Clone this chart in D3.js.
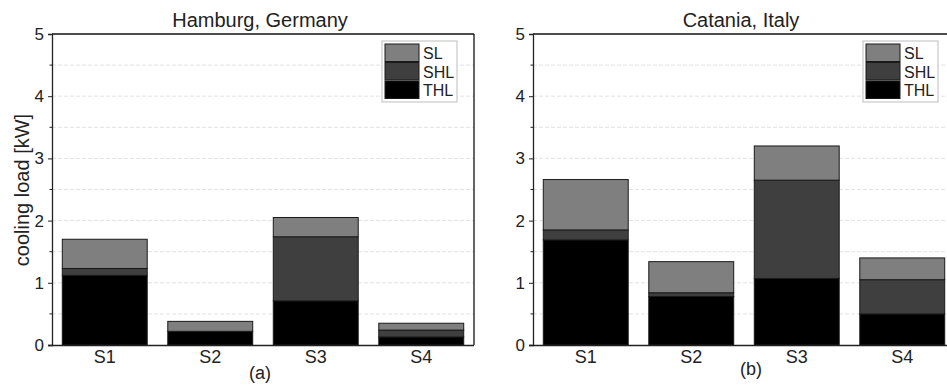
<!DOCTYPE html>
<html>
<head>
<meta charset="utf-8">
<script src="https://cdn.jsdelivr.net/npm/d3@7"></script>
<style>
  html, body { margin: 0; padding: 0; background: #fff; }
  svg { display: block; font-family: "Liberation Sans", Arial, sans-serif; }
</style>
</head>
<body>
<svg id="chart" width="947" height="385"></svg>
<script>
// Scenarios on the x axis
const scenarios = ["S1", "S2", "S3", "S4"];
// Load components, stacked bottom to top
const components = ["THL", "SHL", "SL"];
const legendOrder = ["SL", "SHL", "THL"];
const yTicks = [0, 1, 2, 3, 4, 5];

// Hamburg, Germany [kW]
const hamburgTHL = [1.12, 0.22, 0.71, 0.13];
const hamburgSHL = [0.11, 0.00, 1.03, 0.11];
const hamburgSL  = [0.47, 0.16, 0.31, 0.11];

// Catania, Italy [kW]
const cataniaTHL = [1.69, 0.78, 1.07, 0.50];
const cataniaSHL = [0.16, 0.06, 1.58, 0.55];
const cataniaSL  = [0.81, 0.50, 0.55, 0.35];

const panels = [
  { title: "Hamburg, Germany", tag: "(a)", THL: hamburgTHL, SHL: hamburgSHL, SL: hamburgSL,
    x0: 52, x1: 474, tagX: 260, tagY: 379, showYLabel: true },
  { title: "Catania, Italy", tag: "(b)", THL: cataniaTHL, SHL: cataniaSHL, SL: cataniaSL,
    x0: 533, x1: 955, tagX: 751, tagY: 375, showYLabel: false }
];

const fill = { SL: "#7f7f7f", SHL: "#3f3f3f", THL: "#000000" };
const plotTop = 34, plotBottom = 345;

const svg = d3.select("#chart");

panels.forEach(p => {
  const g = svg.append("g");
  const rows = scenarios.map((s, i) => ({ s, THL: p.THL[i], SHL: p.SHL[i], SL: p.SL[i] }));
  const series = d3.stack().keys(components)(rows);

  const x = d3.scaleBand().domain(scenarios).range([p.x0, p.x1]).paddingInner(0.195).paddingOuter(0.0975);
  const y = d3.scaleLinear().domain([0, 5]).range([plotBottom, plotTop]);

  // dashed grid at every half unit
  g.append("g").selectAll("line")
    .data(d3.range(0.5, 5, 0.5))
    .join("line")
    .attr("x1", p.x0).attr("x2", p.x1)
    .attr("y1", d => y(d)).attr("y2", d => y(d))
    .attr("stroke", "#e2e2e2").attr("stroke-width", 1)
    .attr("stroke-dasharray", "4,2");

  // stacked bars
  g.append("g").selectAll("g")
    .data(series)
    .join("g")
    .attr("fill", d => fill[d.key])
    .selectAll("rect")
    .data(d => d)
    .join("rect")
    .attr("x", d => x(d.data.s))
    .attr("width", x.bandwidth())
    .attr("y", d => y(d[1]))
    .attr("height", d => y(d[0]) - y(d[1]))
    .attr("stroke", "#1a1a1a").attr("stroke-width", 1);

  // frame: top and right edges
  g.append("line").attr("x1", p.x0).attr("x2", p.x1).attr("y1", plotTop).attr("y2", plotTop)
    .attr("stroke", "#111").attr("stroke-width", 1.3);
  g.append("line").attr("x1", p.x1).attr("x2", p.x1).attr("y1", plotTop).attr("y2", plotBottom)
    .attr("stroke", "#111").attr("stroke-width", 1.3);

  // minor ticks on y
  g.append("g").selectAll("line")
    .data(d3.range(0.5, 5, 1))
    .join("line")
    .attr("x1", p.x0 - 2.5).attr("x2", p.x0)
    .attr("y1", d => y(d)).attr("y2", d => y(d))
    .attr("stroke", "#222");

  // y axis
  const ya = g.append("g").attr("transform", `translate(${p.x0},0)`)
    .call(d3.axisLeft(y).tickValues(yTicks).tickFormat(d3.format("d")).tickSizeOuter(0).tickSize(4).tickPadding(4));
  ya.select(".domain").attr("stroke", "#222").attr("stroke-width", 1.3);
  ya.selectAll(".tick line").attr("stroke", "#222");
  ya.selectAll(".tick text").attr("font-size", 17).attr("fill", "#222")
    .attr("font-family", "Liberation Sans, Arial, sans-serif");

  // x axis
  const xa = g.append("g").attr("transform", `translate(0,${plotBottom})`)
    .call(d3.axisBottom(x).tickSize(0).tickSizeOuter(0).tickPadding(5));
  xa.select(".domain").attr("d", `M${p.x0 - 4},0.5H${p.x1}`).attr("stroke", "#222").attr("stroke-width", 1.3);
  xa.selectAll(".tick text").attr("font-size", 18).attr("fill", "#222")
    .attr("font-family", "Liberation Sans, Arial, sans-serif");

  // title and panel tag
  g.append("text").attr("x", (p.x0 + p.x1) / 2 - 3).attr("y", 27)
    .attr("text-anchor", "middle").attr("font-size", 20).attr("fill", "#222")
    .text(p.title);
  g.append("text").attr("x", p.tagX).attr("y", p.tagY)
    .attr("text-anchor", "middle").attr("font-size", 18).attr("fill", "#222")
    .text(p.tag);

  if (p.showYLabel) {
    g.append("text")
      .attr("transform", `translate(29,190) rotate(-90)`)
      .attr("text-anchor", "middle").attr("font-size", 20).attr("fill", "#222")
      .text("cooling load [kW]");
  }

  // legend
  const lx = p.x1 - 92, ly = 41;
  const lg = g.append("g").attr("transform", `translate(${lx},${ly})`);
  lg.append("rect").attr("x", 0).attr("y", 0).attr("width", 75).attr("height", 61)
    .attr("fill", "#fff").attr("stroke", "#bdbdbd").attr("stroke-width", 1);
  legendOrder.forEach((k, i) => {
    lg.append("rect").attr("x", 3).attr("y", 3 + i * 18.5).attr("width", 34).attr("height", 17.5)
      .attr("fill", fill[k]).attr("stroke", "#1a1a1a").attr("stroke-width", 1);
    lg.append("text").attr("x", 41).attr("y", 3 + i * 18.5 + 15)
      .attr("font-size", 16).attr("fill", "#222").text(k);
  });
});
</script>
</body>
</html>
